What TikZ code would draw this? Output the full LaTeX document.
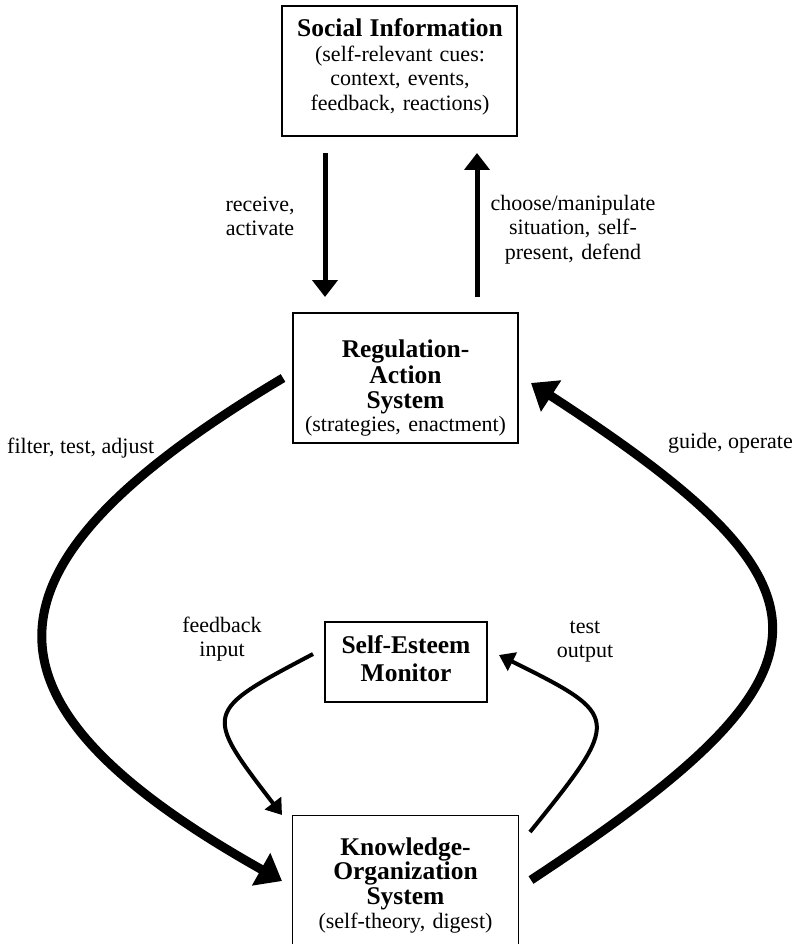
\documentclass[tikz,border=0pt]{standalone}
\usepackage{fontspec}
\setmainfont{Liberation Serif}
\usetikzlibrary{arrows.meta}
\newcommand\plainf{\fontsize{22}{24.5}\selectfont}
\newcommand\boldf{\fontsize{25.5}{24.5}\selectfont\bfseries}
\begin{document}
\begin{tikzpicture}[x=1pt,y=-1pt,
  box/.style={draw,line width=1.3pt,inner sep=0pt},
  txt/.style={inner sep=0pt,font=\plainf},
  mtxt/.style={txt,anchor=base,align=center},
  thickarrow/.style={line width=9pt,-{Triangle[length=24pt,width=36pt]}},
  midarrow/.style={line width=5pt,-{Triangle[length=17pt,width=25pt]}},
  thinarrow/.style={line width=4pt,-{Triangle[length=15pt,width=20pt]}}]
\useasboundingbox (0,0) rectangle (794,944);
% boxes
\node[box,minimum width=235pt,minimum height=130pt] (si) at (399.5,71) {};
\node[box,minimum width=225pt,minimum height=130pt] (ras) at (405.5,378) {};
\node[box,minimum width=162pt,minimum height=80pt] (sem) at (406,662) {};
\node[inner sep=0pt,minimum width=225pt,minimum height=128pt] (kos) at (405.5,880) {};
\draw[line width=1.3pt] (kos.south west) -- (kos.north west) -- (kos.north east) -- (kos.south east);
% box texts
\node[mtxt,text width=240pt] (sit) at (400,37) {{\boldf Social Information}\\(self-relevant cues:\\context, events,\\feedback, reactions)};
\node[mtxt,text width=230pt] (rast) at (405.5,357) {{\boldf Regulation-}\\[1.5pt]{\boldf Action}\\[1pt]{\boldf System}\\[-1.5pt](strategies, enactment)};
\node[mtxt,text width=160pt,font=\fontsize{25.5}{28}\selectfont\bfseries] (semt) at (406,653) {Self-Esteem\\Monitor};
\node[mtxt,text width=230pt] (kost) at (405.5,855) {{\boldf Knowledge-}\\{\boldf Organization}\\{\boldf System}\\(self-theory, digest)};
% connector end points
\coordinate (ds) at (325,153); \coordinate (de) at (325,297);
\coordinate (us) at (477,297); \coordinate (ue) at (477,153);
\coordinate (fl1) at (283,378); \coordinate (fl2) at (282,881);
\coordinate (go1) at (531,880); \coordinate (go2) at (531,383);
\coordinate (fb1) at (313,654); \coordinate (fb2) at (282,815);
\coordinate (to1) at (530,832); \coordinate (to2) at (499,655);
% connectors
\draw[midarrow] (ds) -- (de);
\draw[midarrow] (us) -- (ue);
\draw[thickarrow] (fl1) .. controls (-30,565) and (-40,700) .. (fl2);
\draw[thickarrow] (go1) .. controls (850,670) and (850,590) .. (go2);
\draw[thinarrow] (fb1) .. controls (203,712) and (203,712) .. (fb2);
\draw[thinarrow] (to1) .. controls (622,718) and (622,716) .. (to2);
% labels
\node[mtxt,text width=100pt] (l1) at (260,211) {receive,\\activate};
\node[mtxt,text width=200pt] (l2) at (573,210) {choose/manipulate\\situation, self-\\present, defend};
\node[txt,anchor=base west] (l3) at (7,453) {filter, test, adjust};
\node[txt,anchor=base west] (l4) at (668,448) {guide, operate};
\node[mtxt,text width=100pt] (l5) at (222,632) {feedback\\input};
\node[mtxt,text width=100pt] (l6) at (585,633) {test\\output};
\end{tikzpicture}
\end{document}
